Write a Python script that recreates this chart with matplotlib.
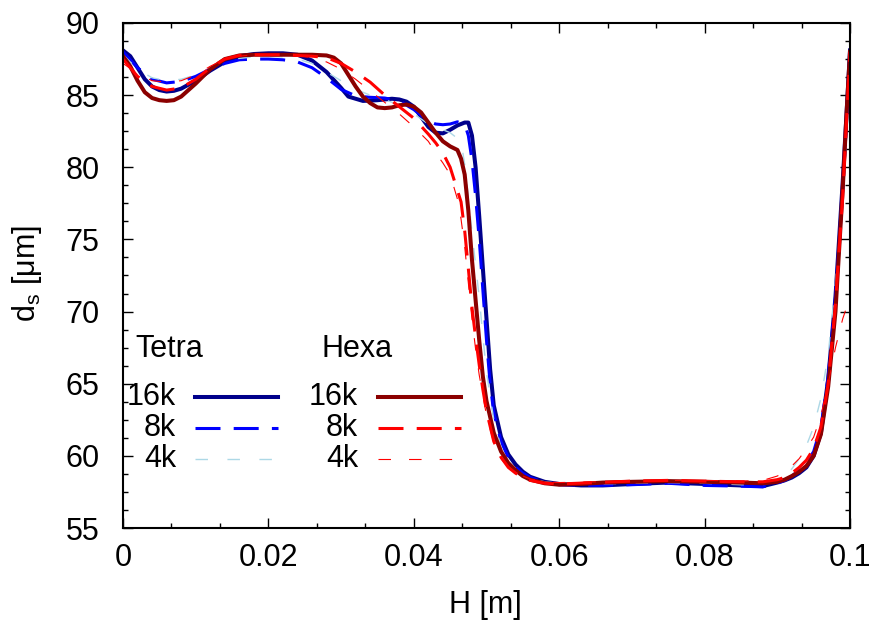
import numpy as np
import matplotlib
matplotlib.use("Agg")
from matplotlib import pyplot as plt
from matplotlib.lines import Line2D
from matplotlib.ticker import MultipleLocator, FuncFormatter

plt.rcParams['font.family'] = ['Liberation Sans', 'DejaVu Sans']
plt.rcParams['mathtext.fontset'] = 'custom'
plt.rcParams['mathtext.rm'] = 'Liberation Sans'
plt.rcParams['lines.scale_dashes'] = False

# ---- data: H [m] vs d_s [um] ----
tetra16_x = [0, 0.001, 0.002, 0.003, 0.004, 0.005, 0.006, 0.007, 0.008, 0.010, 0.012,
             0.014, 0.016, 0.018, 0.020, 0.022, 0.024, 0.026, 0.028, 0.030, 0.031, 0.033,
             0.035, 0.037, 0.038, 0.039, 0.040, 0.041, 0.042, 0.043, 0.044, 0.045, 0.046,
             0.047, 0.0475, 0.048, 0.0485, 0.049, 0.0495, 0.050, 0.0505, 0.051, 0.052,
             0.053, 0.054, 0.055, 0.056, 0.058, 0.060, 0.063, 0.066, 0.070, 0.075, 0.080,
             0.085, 0.088, 0.090, 0.091, 0.092, 0.093, 0.094, 0.095, 0.096, 0.097, 0.098,
             0.099, 0.0995, 0.100]
tetra16_y = [88.1, 87.7, 86.9, 86.1, 85.6, 85.35, 85.25, 85.3, 85.45, 86.0, 86.7,
             87.3, 87.7, 87.85, 87.9, 87.9, 87.8, 87.4, 86.6, 85.5, 84.9, 84.6,
             84.65, 84.75, 84.7, 84.55, 84.2, 83.5, 82.8, 82.4, 82.35, 82.6, 82.9,
             83.1, 83.1, 82.2, 80.0, 76.6, 73.0, 69.5, 66.0, 63.5, 61.3,
             60.1, 59.4, 58.9, 58.55, 58.2, 58.05, 57.95, 57.95, 58.05, 58.15, 58.05,
             57.95, 57.9, 58.15, 58.3, 58.5, 58.8, 59.2, 60.0, 61.6, 65.3, 71.0,
             79.0, 83.5, 88.1]

tetra8_x = [0, 0.002, 0.004, 0.006, 0.008, 0.010, 0.012, 0.014, 0.016, 0.018, 0.020,
            0.022, 0.024, 0.026, 0.028, 0.030, 0.032, 0.034, 0.036, 0.038, 0.040, 0.041,
            0.042, 0.043, 0.044, 0.045, 0.046, 0.047, 0.0475, 0.048, 0.0485, 0.049,
            0.0495, 0.050, 0.0505, 0.051, 0.052, 0.053, 0.054, 0.055, 0.056, 0.058,
            0.060, 0.065, 0.070, 0.075, 0.080, 0.085, 0.088, 0.090, 0.091, 0.092, 0.093,
            0.094, 0.095, 0.096, 0.097, 0.098, 0.099, 0.0995, 0.100]
tetra8_y = [88.0, 86.9, 86.1, 85.85, 85.95, 86.3, 86.8, 87.2, 87.45, 87.5, 87.5,
            87.45, 87.3, 86.9, 86.2, 85.4, 84.95, 84.85, 84.8, 84.6, 84.0, 83.6,
            83.2, 83.0, 82.95, 83.0, 83.15, 83.0, 82.2, 80.5, 78.0, 75.0,
            71.5, 68.0, 65.0, 63.0, 61.0, 59.9, 59.2, 58.8, 58.5, 58.15,
            58.0, 57.95, 58.0, 58.1, 57.95, 57.9, 57.85, 58.1, 58.3, 58.6, 59.0,
            59.5, 60.3, 62.0, 65.5, 71.0, 78.5, 83.0, 88.0]

tetra4_x = [0, 0.002, 0.004, 0.006, 0.008, 0.010, 0.012, 0.014, 0.016, 0.018, 0.020,
            0.022, 0.024, 0.026, 0.028, 0.030, 0.032, 0.034, 0.036, 0.038, 0.040, 0.042,
            0.044, 0.045, 0.046, 0.0465, 0.047, 0.0475, 0.048, 0.0485, 0.049, 0.0495,
            0.050, 0.051, 0.052, 0.053, 0.054, 0.055, 0.056, 0.058, 0.060, 0.065, 0.070,
            0.075, 0.080, 0.085, 0.088, 0.090, 0.091, 0.092, 0.093, 0.094, 0.095, 0.096,
            0.097, 0.098, 0.099, 0.0995, 0.100]
tetra4_y = [87.8, 86.8, 86.2, 86.0, 86.1, 86.4, 86.9, 87.3, 87.55, 87.65, 87.7,
            87.65, 87.5, 87.2, 86.6, 86.0, 85.4, 85.0, 84.7, 84.3, 83.7, 83.0,
            82.6, 82.4, 82.0, 81.8, 80.2, 78.0, 75.5, 73.2, 71.0, 68.3,
            65.8, 62.5, 60.6, 59.6, 59.0, 58.7, 58.45, 58.2, 58.1, 58.05, 58.1,
            58.15, 58.1, 58.0, 58.0, 58.3, 58.6, 59.1, 59.8, 60.7, 62.0, 64.0,
            67.0, 72.0, 78.0, 82.0, 85.5]

hexa16_x = [0, 0.001, 0.002, 0.003, 0.004, 0.005, 0.006, 0.007, 0.008, 0.010, 0.012,
            0.014, 0.016, 0.018, 0.020, 0.022, 0.024, 0.026, 0.028, 0.029, 0.030, 0.031,
            0.032, 0.033, 0.034, 0.035, 0.036, 0.037, 0.038, 0.039, 0.040, 0.041, 0.042,
            0.043, 0.044, 0.045, 0.046, 0.0465, 0.047, 0.0475, 0.048, 0.0485, 0.049,
            0.0495, 0.050, 0.051, 0.052, 0.053, 0.054, 0.055, 0.056, 0.058, 0.060, 0.063,
            0.066, 0.070, 0.075, 0.080, 0.085, 0.088, 0.090, 0.091, 0.092, 0.093, 0.094,
            0.095, 0.096, 0.097, 0.098, 0.099, 0.0995, 0.100]
hexa16_y = [87.7, 87.0, 86.0, 85.2, 84.8, 84.65, 84.6, 84.65, 84.9, 85.8, 86.8,
            87.5, 87.75, 87.8, 87.8, 87.8, 87.8, 87.8, 87.75, 87.6, 87.2, 86.4,
            85.6, 84.9, 84.45, 84.15, 84.1, 84.15, 84.3, 84.35, 84.2, 83.8, 83.1,
            82.4, 81.8, 81.45, 81.2, 80.6, 79.5, 77.0, 73.6, 70.8, 68.0,
            65.5, 63.8, 61.6, 60.3, 59.5, 59.0, 58.6, 58.35, 58.1, 58.0, 58.05,
            58.15, 58.2, 58.25, 58.2, 58.15, 58.1, 58.2, 58.35, 58.6, 58.9, 59.3,
            60.0, 61.5, 64.8, 70.0, 78.5, 83.5, 88.0]

hexa8_x = [0, 0.002, 0.004, 0.006, 0.008, 0.010, 0.012, 0.014, 0.016, 0.018, 0.020,
           0.022, 0.024, 0.026, 0.028, 0.030, 0.032, 0.034, 0.036, 0.038, 0.040, 0.042,
           0.043, 0.044, 0.045, 0.046, 0.0465, 0.047, 0.0475, 0.048, 0.0485, 0.049,
           0.0495, 0.050, 0.051, 0.052, 0.053, 0.054, 0.055, 0.056, 0.058, 0.060, 0.065,
           0.070, 0.075, 0.080, 0.085, 0.088, 0.090, 0.091, 0.092, 0.093, 0.094, 0.095,
           0.096, 0.097, 0.098, 0.099, 0.0995, 0.100]
hexa8_y = [87.5, 86.3, 85.6, 85.35, 85.5, 86.1, 86.9, 87.5, 87.75, 87.8, 87.8,
           87.8, 87.75, 87.7, 87.6, 87.2, 86.6, 85.9, 85.0, 84.2, 83.4, 82.3,
           81.7, 81.0, 80.0, 78.4, 77.6, 75.6, 73.0, 70.3, 68.2, 66.3,
           64.6, 63.1, 61.0, 59.9, 59.2, 58.8, 58.5, 58.3, 58.1, 58.05, 58.15,
           58.25, 58.3, 58.25, 58.2, 58.2, 58.35, 58.5, 58.8, 59.2, 59.7, 60.5,
           62.0, 65.0, 70.5, 78.0, 83.0, 88.0]

hexa4_x = [0, 0.002, 0.004, 0.006, 0.008, 0.010, 0.012, 0.014, 0.016, 0.018, 0.020,
           0.022, 0.024, 0.026, 0.028, 0.030, 0.032, 0.034, 0.036, 0.038, 0.040, 0.042,
           0.043, 0.044, 0.045, 0.046, 0.0465, 0.047, 0.0475, 0.048, 0.0485, 0.049,
           0.050, 0.051, 0.052, 0.053, 0.054, 0.055, 0.056, 0.058, 0.060, 0.065, 0.070,
           0.075, 0.080, 0.085, 0.088, 0.090, 0.091, 0.092, 0.093, 0.094, 0.095, 0.096,
           0.097, 0.098, 0.099, 0.100]
hexa4_y = [87.2, 86.5, 86.0, 85.9, 86.0, 86.4, 87.0, 87.5, 87.7, 87.8, 87.8,
           87.8, 87.75, 87.6, 87.3, 86.8, 86.1, 85.3, 84.5, 83.7, 82.8, 81.8,
           81.0, 80.3, 79.5, 77.8, 76.4, 74.5, 72.0, 69.5, 67.4, 65.6,
           62.8, 60.9, 59.8, 59.2, 58.8, 58.6, 58.4, 58.2, 58.15, 58.2, 58.3,
           58.3, 58.3, 58.25, 58.3, 58.6, 58.9, 59.3, 59.8, 60.5, 61.3, 62.8,
           65.0, 67.5, 69.5, 71.0]

xticks = [0, 0.02, 0.04, 0.06, 0.08, 0.1]
yticks = [55, 60, 65, 70, 75, 80, 85, 90]

# styles (gnuplot look)
styles = {
    'tetra16': dict(color='#00008b', lw=2.9, ls='-'),
    'tetra8': dict(color='#0000ff', lw=2.2, ls=(0, (18, 9.5))),
    'tetra4': dict(color='#add8e6', lw=1.0, ls=(0, (9, 14))),
    'hexa16': dict(color='#8b0000', lw=2.9, ls='-'),
    'hexa8': dict(color='#ff0000', lw=2.2, ls=(0, (18, 9.5))),
    'hexa4': dict(color='#ff0000', lw=0.8, ls=(0, (9, 13))),
}
FS = 22

fig = plt.figure(figsize=(8.75, 6.22), dpi=100)
ax = fig.add_axes([123 / 875, 94 / 622, 727 / 875, 505 / 622])

ax.plot(tetra16_x, tetra16_y, **styles['tetra16'])
ax.plot(tetra8_x, tetra8_y, **styles['tetra8'])
ax.plot(tetra4_x, tetra4_y, **styles['tetra4'])
ax.plot(hexa16_x, hexa16_y, **styles['hexa16'])
ax.plot(hexa8_x, hexa8_y, **styles['hexa8'])
ax.plot(hexa4_x, hexa4_y, **styles['hexa4'])

ax.set_xlim(0, 0.1)
ax.set_ylim(55, 90)
ax.set_xticks(xticks)
ax.set_yticks(yticks)
ax.xaxis.set_major_formatter(FuncFormatter(lambda v, p: '%g' % round(v, 4)))
ax.xaxis.set_minor_locator(MultipleLocator(0.02 / 3))
ax.yaxis.set_minor_locator(MultipleLocator(1.25))
ax.tick_params(which='both', direction='in', top=True, right=True, width=1.0,
               labelsize=FS)
ax.tick_params(which='major', length=7)
ax.tick_params(which='minor', length=3.5)
ax.tick_params(axis='y', pad=17)
ax.tick_params(axis='x', pad=11)
for s in ax.spines.values():
    s.set_linewidth(1.5)

ax.set_xlabel('H [m]', fontsize=FS)
ax.set_ylabel(r'd$_\mathrm{s}$ [μm]', fontsize=FS)
ax.xaxis.set_label_coords(0.498, -0.123)
ax.yaxis.set_label_coords(-0.109, 0.504)

# hand-made gnuplot style key
def px(x, y):
    return ((x - 123) / 727, (528 - y) / 504)

ax.text(*px(135, 349), 'Tetra', transform=ax.transAxes, fontsize=FS,
        ha='left', va='center')
ax.text(*px(321, 349), 'Hexa', transform=ax.transAxes, fontsize=FS,
        ha='left', va='center')
rows = [('16k', 397), ('8k', 428), ('4k', 459)]
for group, tx, x0, x1 in [('tetra', 176, 195, 278), ('hexa', 358, 378, 461)]:
    for lab, yy in rows:
        ax.text(*px(tx, yy), lab, transform=ax.transAxes, fontsize=FS,
                ha='right', va='center')
        (a0, b0), (a1, b1) = px(x0, yy), px(x1, yy)
        ax.add_line(Line2D([a0, a1], [b0, b1], transform=ax.transAxes,
                           **styles[group + lab[:-1]]))

fig.savefig('out.png', dpi=100)
